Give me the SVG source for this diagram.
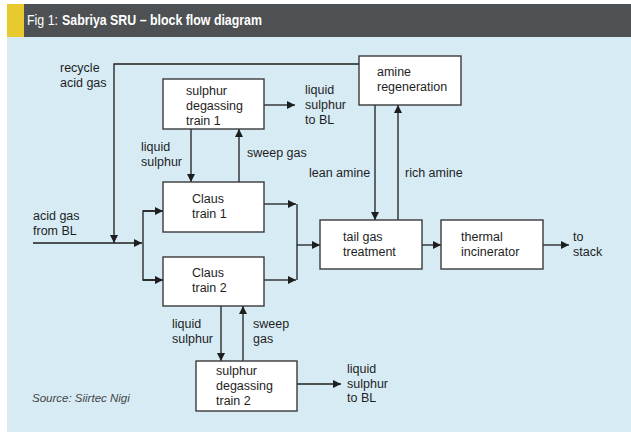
<svg xmlns="http://www.w3.org/2000/svg" width="631" height="432" viewBox="0 0 631 432">
  <style>
    .lbl { font-family: "Liberation Sans", Arial, sans-serif; font-size: 12.5px; fill: #1e1e1e; }
    .box { fill: #ffffff; stroke: #3a3a3a; stroke-width: 1.4; }
    .ln { fill: none; stroke: #1e1e1e; stroke-width: 1.3; }
    .ttl { font-family: "Liberation Sans", Arial, sans-serif; font-size: 14px; fill: #ffffff; }
    .src { font-family: "Liberation Sans", Arial, sans-serif; font-size: 11.5px; font-style: italic; fill: #444; }
  </style>
  <defs>
    <marker id="arr" viewBox="0 0 10 10" refX="10" refY="5" markerWidth="8" markerHeight="8" markerUnits="userSpaceOnUse" orient="auto">
      <path d="M0,0 L10,5 L0,10 Z" fill="#1e1e1e"/>
    </marker>
  </defs>

  <!-- page and title bar -->
  <rect x="0" y="0" width="631" height="432" fill="#ffffff"/>
  <rect x="7" y="37" width="624" height="395" fill="#d7ebf5"/>
  <rect x="7" y="4" width="17" height="33" fill="#e8c92e"/>
  <rect x="24" y="4" width="607" height="33" fill="#4e5153"/>
  <text class="ttl" x="27" y="25" textLength="31" lengthAdjust="spacingAndGlyphs">Fig 1:</text>
  <text class="ttl" x="62" y="25" font-weight="bold" textLength="200" lengthAdjust="spacingAndGlyphs">Sabriya SRU – block flow diagram</text>

  <!-- connectors -->
  <g id="connectors">
    <!-- recycle acid gas from amine regeneration -->
    <polyline class="ln" points="359,64 114,64 114,243" marker-end="url(#arr)"/>
    <!-- acid gas feed and split -->
    <line class="ln" x1="33" y1="243" x2="142" y2="243" marker-end="url(#arr)"/>
    <polyline class="ln" points="163,211 143,211 143,280 163,280" />
    <line class="ln" x1="143" y1="211" x2="163" y2="211" marker-end="url(#arr)"/>
    <line class="ln" x1="143" y1="280" x2="163" y2="280" marker-end="url(#arr)"/>
    <!-- Claus outlets to tail gas -->
    <line class="ln" x1="264" y1="204" x2="296" y2="204" marker-end="url(#arr)"/>
    <line class="ln" x1="264" y1="280" x2="296" y2="280" marker-end="url(#arr)"/>
    <line class="ln" x1="297" y1="204" x2="297" y2="280"/>
    <line class="ln" x1="297" y1="245" x2="320" y2="245" marker-end="url(#arr)"/>
    <!-- tail gas to incinerator to stack -->
    <line class="ln" x1="422" y1="245" x2="441" y2="245" marker-end="url(#arr)"/>
    <line class="ln" x1="543" y1="245" x2="569" y2="245" marker-end="url(#arr)"/>
    <!-- amine loop -->
    <line class="ln" x1="375" y1="105" x2="375" y2="220" marker-end="url(#arr)"/>
    <line class="ln" x1="398" y1="220" x2="398" y2="105" marker-end="url(#arr)"/>
    <!-- degassing train 1 -->
    <line class="ln" x1="191" y1="129" x2="191" y2="182" marker-end="url(#arr)"/>
    <line class="ln" x1="239" y1="182" x2="239" y2="129" marker-end="url(#arr)"/>
    <line class="ln" x1="264" y1="105" x2="295" y2="105" marker-end="url(#arr)"/>
    <!-- degassing train 2 -->
    <line class="ln" x1="221" y1="306" x2="221" y2="361" marker-end="url(#arr)"/>
    <line class="ln" x1="243" y1="361" x2="243" y2="306" marker-end="url(#arr)"/>
    <line class="ln" x1="297" y1="384" x2="341" y2="384" marker-end="url(#arr)"/>
  </g>

  <!-- process blocks -->
  <g id="degas1">
    <rect class="box" x="163" y="79" width="101" height="50"/>
    <text class="lbl" x="186" y="95">sulphur</text>
    <text class="lbl" x="186" y="110">degassing</text>
    <text class="lbl" x="186" y="125">train 1</text>
  </g>
  <g id="claus1">
    <rect class="box" x="163" y="182" width="101" height="50"/>
    <text class="lbl" x="192" y="203">Claus</text>
    <text class="lbl" x="192" y="218">train 1</text>
  </g>
  <g id="claus2">
    <rect class="box" x="163" y="257" width="101" height="49"/>
    <text class="lbl" x="192" y="277">Claus</text>
    <text class="lbl" x="192" y="292">train 2</text>
  </g>
  <g id="degas2">
    <rect class="box" x="196" y="361" width="101" height="50"/>
    <text class="lbl" x="216" y="375">sulphur</text>
    <text class="lbl" x="216" y="390">degassing</text>
    <text class="lbl" x="216" y="405">train 2</text>
  </g>
  <g id="amine">
    <rect class="box" x="359" y="56" width="102" height="49"/>
    <text class="lbl" x="377" y="76">amine</text>
    <text class="lbl" x="377" y="91">regeneration</text>
  </g>
  <g id="tailgas">
    <rect class="box" x="320" y="220" width="102" height="49"/>
    <text class="lbl" x="343" y="241">tail gas</text>
    <text class="lbl" x="343" y="256">treatment</text>
  </g>
  <g id="incinerator">
    <rect class="box" x="441" y="220" width="102" height="49"/>
    <text class="lbl" x="461" y="241">thermal</text>
    <text class="lbl" x="461" y="256">incinerator</text>
  </g>

  <!-- stream labels -->
  <g id="labels">
    <text class="lbl" x="60" y="72">recycle</text>
    <text class="lbl" x="60" y="87">acid gas</text>
    <text class="lbl" x="305" y="94">liquid</text>
    <text class="lbl" x="305" y="109">sulphur</text>
    <text class="lbl" x="305" y="124">to BL</text>
    <text class="lbl" x="141" y="151">liquid</text>
    <text class="lbl" x="141" y="166">sulphur</text>
    <text class="lbl" x="247" y="157">sweep gas</text>
    <text class="lbl" x="309" y="177">lean amine</text>
    <text class="lbl" x="405" y="177">rich amine</text>
    <text class="lbl" x="33" y="220">acid gas</text>
    <text class="lbl" x="33" y="235">from BL</text>
    <text class="lbl" x="573" y="241">to</text>
    <text class="lbl" x="573" y="256">stack</text>
    <text class="lbl" x="172" y="328">liquid</text>
    <text class="lbl" x="172" y="343">sulphur</text>
    <text class="lbl" x="253" y="328">sweep</text>
    <text class="lbl" x="253" y="343">gas</text>
    <text class="lbl" x="347" y="373">liquid</text>
    <text class="lbl" x="347" y="388">sulphur</text>
    <text class="lbl" x="347" y="402">to BL</text>
    <text class="src" x="32" y="402">Source: Siirtec Nigi</text>
  </g>
</svg>
